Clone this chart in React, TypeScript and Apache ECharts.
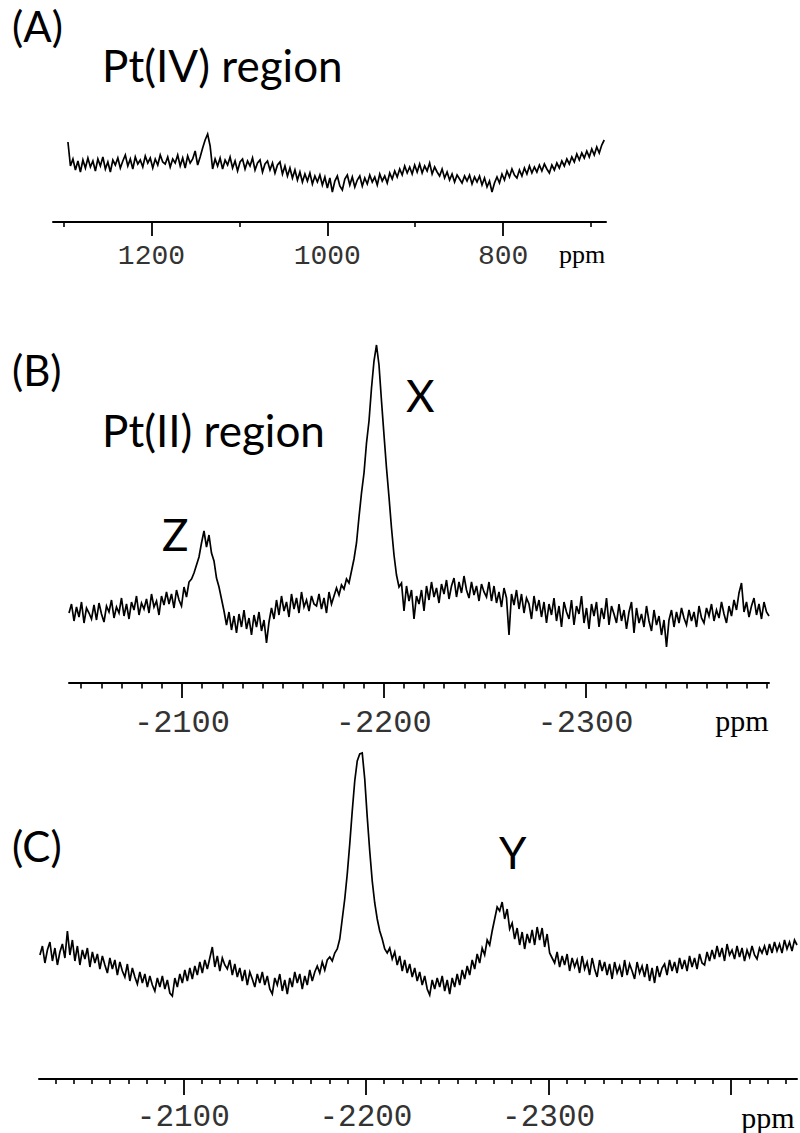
import React, { useEffect, useRef } from "react";
import * as echarts from "echarts";

// ---------- Panel A : Pt(IV) region (heights above the axis line) ----------
const ppmRangeA = [1295, 685];
const specA = [
  80, 56, 63, 52, 61, 50, 62, 54, 64, 55,
  61, 51, 63, 56, 65, 53, 60, 50, 62, 57,
  64, 54, 61, 67, 56, 63, 53, 65, 58, 62,
  55, 66, 59, 64, 54, 63, 57, 67, 60, 58,
  65, 55, 63, 59, 67, 56, 64, 54, 66, 59,
  63, 71, 57, 65, 74, 82, 88, 76, 53, 63,
  56, 64, 53, 62, 57, 65, 54, 61, 51, 60,
  63, 53, 61, 56, 64, 52, 59, 62, 50, 58,
  61, 52, 59, 49, 57, 60, 48, 56, 46, 54,
  44, 52, 42, 50, 40, 48, 41, 49, 38, 46,
  40, 47, 37, 45, 34, 44, 30, 41, 46, 36,
  32, 43, 47, 37, 45, 35, 42, 46, 36, 44,
  38, 47, 40, 45, 37, 48, 41, 46, 39, 49,
  43, 51, 45, 53, 47, 56, 49, 55, 48, 57,
  50, 58, 49, 56, 51, 59, 48, 55, 50, 46,
  53, 44, 50, 42, 48, 40, 47, 43, 39, 46,
  41, 47, 38, 45, 40, 46, 37, 44, 35, 41,
  30, 39, 45, 39, 48, 42, 51, 45, 53, 47,
  44, 52, 46, 54, 48, 56, 49, 55, 50, 57,
  51, 58, 53, 49, 57, 52, 59, 54, 61, 56,
  63, 58, 65, 60, 68, 62, 69, 64, 71, 65,
  73, 67, 75, 69, 77, 82,
];

// ---------- Panel B : Pt(II) region ----------
const ppmRangeB = [-2044, -2391];
const specB = [
  70, 79, 62, 76, 66, 81, 60, 75, 70, 64,
  78, 63, 80, 69, 61, 77, 71, 83, 65, 76,
  70, 85, 67, 79, 64, 81, 73, 87, 68, 80,
  74, 84, 70, 89, 76, 82, 68, 87, 78, 91,
  79, 89, 75, 93, 83, 77, 96, 86, 101, 104,
  110, 118, 126, 140, 152, 136, 148, 130, 122, 105,
  96, 84, 72, 58, 71, 53, 67, 50, 69, 56,
  73, 54, 65, 48, 68, 56, 71, 52, 63, 40,
  61, 75, 64, 83, 68, 87, 72, 81, 66, 89,
  74, 85, 70, 91, 76, 83, 72, 87, 79, 77,
  89, 74, 85, 70, 91, 79, 87, 95, 88, 98,
  94, 104, 100, 112, 124, 140, 166, 190, 210, 240,
  262, 295, 322, 338, 318, 282, 248, 215, 186, 155,
  128, 108, 96, 100, 72, 97, 82, 93, 64, 87,
  79, 93, 72, 97, 83, 101, 86, 95, 80, 99,
  89, 103, 84, 97, 105, 86, 101, 90, 107, 93,
  85, 101, 88, 97, 82, 99, 91, 86, 101, 82,
  97, 80, 91, 76, 95, 85, 48, 89, 78, 93,
  74, 89, 70, 85, 79, 64, 87, 72, 83, 66,
  81, 60, 79, 68, 85, 62, 77, 56, 81, 71,
  64, 83, 58, 77, 69, 87, 60, 75, 54, 79,
  67, 81, 56, 75, 64, 85, 58, 77, 69, 60,
  79, 62, 73, 54, 71, 81, 50, 75, 60, 69,
  56, 77, 62, 52, 73, 58, 67, 48, 63, 36,
  63, 73, 56, 71, 60, 75, 65, 58, 73, 62,
  71, 56, 77, 65, 60, 75, 67, 79, 62, 73,
  65, 81, 69, 60, 77, 67, 83, 73, 90, 100,
  71, 81, 66, 77, 85, 68, 79, 64, 81, 71, 67,
];

// ---------- Panel C ----------
const ppmRangeC = [-2021.5, -2436];
const specC = [
  124, 133, 116, 129, 137, 118, 131, 114, 127, 135,
  121, 148, 124, 139, 118, 133, 114, 129, 120, 131,
  112, 127, 116, 125, 110, 123, 114, 106, 121, 110,
  119, 104, 117, 108, 102, 115, 98, 111, 102, 95,
  107, 96, 105, 92, 103, 94, 88, 101, 92, 103,
  90, 99, 86, 83, 101, 92, 105, 96, 109, 98,
  111, 100, 113, 104, 117, 106, 119, 110, 121, 132,
  112, 123, 108, 121, 114, 110, 119, 104, 115, 102,
  111, 98, 109, 94, 107, 100, 92, 105, 96, 107,
  94, 103, 90, 85, 101, 94, 105, 88, 99, 85,
  101, 92, 107, 96, 105, 90, 103, 94, 109, 98,
  107, 113, 106, 117, 109, 119, 122, 118, 126, 130,
  140, 160, 180, 205, 235, 268, 298, 318, 325, 326,
  300, 262, 228, 198, 176, 160, 148, 140, 130, 126,
  131, 120, 127, 114, 123, 108, 119, 106, 115, 102,
  111, 98, 107, 94, 103, 90, 84, 99, 90, 101,
  92, 103, 88, 99, 85, 101, 92, 105, 94, 109,
  100, 113, 104, 119, 110, 125, 116, 131, 124, 139,
  134, 148, 160, 172, 168, 177, 160, 170, 150, 156,
  140, 151, 134, 147, 130, 145, 136, 149, 134, 152,
  139, 151, 132, 145, 126, 121, 116, 127, 112, 123,
  114, 125, 108, 121, 112, 119, 106, 123, 110, 117,
  104, 121, 110, 102, 119, 108, 117, 104, 115, 100,
  117, 106, 113, 102, 119, 104, 115, 108, 100, 117,
  106, 113, 102, 115, 98, 111, 96, 113, 102, 111,
  115, 104, 119, 108, 117, 106, 121, 110, 119, 108,
  123, 112, 121, 110, 125, 116, 114, 127, 118, 129,
  120, 133, 122, 131, 118, 135, 124, 129, 120, 133,
  122, 131, 118, 129, 122, 133, 124, 120, 131, 126,
  133, 124, 135, 126, 137, 128, 135, 126, 139, 130,
  137, 128, 139, 134,
];

// ---------- Axes ----------
const axisRangeA = [683, 1312];
const majorA = [1200, 1000, 800];
const minorA = [1300, 1100, 900, 700];
const axisRangeB = [-2391, -2044];
const majorB = [-2100, -2200, -2300];
const axisRangeC = [-2436, -2021];
const majorTicksC = [-2100, -2200, -2300, -2400];
const majorLabelsC = [-2100, -2200, -2300];

function minorTicks(from: number, to: number, step: number) {
  const out: number[] = [];
  for (let v = from; v <= to; v += step) {
    if (v % 100 !== 0) out.push(v);
  }
  return out;
}
const minorB = minorTicks(-2390, -2050, 10);
const minorC = minorTicks(-2430, -2030, 10);

function toPairs(values: number[], range: number[]) {
  const n = values.length;
  return values.map((v, i) => [range[0] + ((range[1] - range[0]) * i) / (n - 1), v]);
}

const MONO = "Liberation Mono";
const SANS = "Lato";
const SERIF = "Liberation Serif";

function mainX(grid: number, range: number[], ticks: number[], labels: number[], fontSize: number, margin: number, tickLen: number) {
  return {
    gridIndex: grid,
    type: "value",
    inverse: true,
    min: range[0],
    max: range[1],
    position: "bottom",
    axisLine: { show: true, onZero: false, lineStyle: { color: "#000", width: 2 } },
    axisTick: { show: true, customValues: ticks, length: tickLen, lineStyle: { color: "#000", width: 1.8 } },
    axisLabel: {
      show: true,
      customValues: labels,
      margin,
      verticalAlign: "middle",
      lineHeight: 24,
      fontFamily: MONO,
      fontSize,
      color: "#333",
      formatter: (v: number) => String(v),
    },
    splitLine: { show: false },
  };
}
function minorX(grid: number, range: number[], ticks: number[], tickLen: number) {
  return {
    gridIndex: grid,
    type: "value",
    inverse: true,
    min: range[0],
    max: range[1],
    position: "bottom",
    axisLine: { show: false, onZero: false },
    axisTick: { show: true, customValues: ticks, length: tickLen, lineStyle: { color: "#000", width: 1.6 } },
    axisLabel: { show: false },
    splitLine: { show: false },
  };
}
function hiddenY(grid: number, max: number) {
  return { gridIndex: grid, type: "value", min: 0, max, show: false, splitLine: { show: false } };
}
function spectrum(idx: number, data: number[][]) {
  return {
    type: "line",
    xAxisIndex: idx * 2,
    yAxisIndex: idx,
    data,
    showSymbol: false,
    symbol: "none",
    silent: true,
    lineStyle: { color: "#000", width: 1.7, join: "miter" },
  };
}
function label(text: string, x: number, y: number, size: number, family = SANS, align = "left") {
  return {
    type: "text",
    x,
    y,
    silent: true,
    style: { text, fontFamily: family, fontSize: size, lineHeight: size, fill: "#000", align, verticalAlign: "middle" },
  };
}

export default function App() {
  const ref = useRef<HTMLDivElement>(null);
  useEffect(() => {
    if (!ref.current) return;
    const chart = echarts.init(ref.current, undefined, { renderer: "svg" });
    const option: any = {
      animation: false,
      backgroundColor: "#fff",
      grid: [
        { left: 53, right: 194, top: 122, height: 100, containLabel: false, outerBoundsMode: "none" },
        { left: 69, right: 31, top: 333, height: 350, containLabel: false, outerBoundsMode: "none" },
        { left: 39, right: 3, top: 729, height: 350, containLabel: false, outerBoundsMode: "none" },
      ],
      xAxis: [
        mainX(0, axisRangeA, majorA, majorA, 28, 34, 14),
        minorX(0, axisRangeA, minorA, 5),
        mainX(1, axisRangeB, majorB, majorB, 32, 40, 15),
        minorX(1, axisRangeB, minorB, 5.5),
        mainX(2, axisRangeC, majorTicksC, majorLabelsC, 31, 38, 16),
        minorX(2, axisRangeC, minorC, 5),
      ],
      yAxis: [hiddenY(0, 100), hiddenY(1, 350), hiddenY(2, 350)],
      series: [
        spectrum(0, toPairs(specA, ppmRangeA)),
        spectrum(1, toPairs(specB, ppmRangeB)),
        spectrum(2, toPairs(specC, ppmRangeC)),
      ],
      graphic: [
        label("(A)", 12, 26, 42),
        label("Pt(IV) region", 102, 65, 44),
        label("(B)", 12, 370, 42),
        label("X", 406, 395, 44),
        label("Pt(II) region", 102, 430, 44),
        label("Z", 162, 534, 44),
        label("(C)", 12, 846, 42),
        label("Y", 499, 852, 44),
        label("ppm", 582, 254, 26, SERIF, "center"),
        label("ppm", 742, 720, 30, SERIF, "center"),
        label("ppm", 768, 1117, 30, SERIF, "center"),
      ],
    };
    chart.setOption(option);
    return () => chart.dispose();
  }, []);
  return <div ref={ref} style={{ position: "absolute", left: 0, top: 0, width: 800, height: 1133 }} />;
}
